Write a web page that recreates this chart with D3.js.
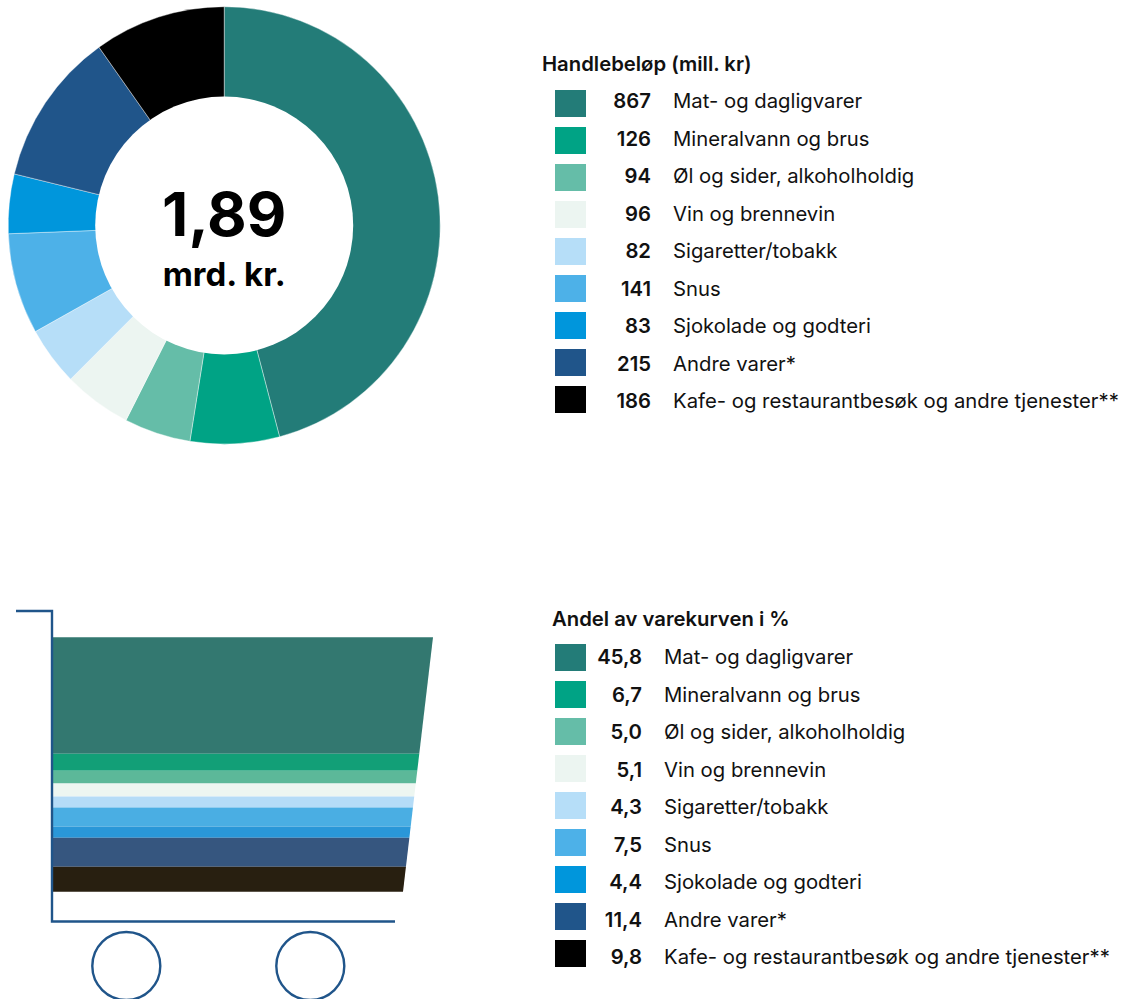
<!DOCTYPE html>
<html lang="nb">
<head>
<meta charset="utf-8">
<title>Handlebeløp og varekurv</title>
<script src="https://cdn.jsdelivr.net/npm/d3@7"></script>
<style>
  html, body { margin: 0; padding: 0; background: #fff; }
  svg { display: block; font-family: "Inter", sans-serif; color: #111; }
</style>
</head>
<body>
<svg id="chart" width="1122" height="999"></svg>
<script>
// Varegrupper og verdier
const categories = [
  "Mat- og dagligvarer", "Mineralvann og brus", "Øl og sider, alkoholholdig",
  "Vin og brennevin", "Sigaretter/tobakk", "Snus", "Sjokolade og godteri",
  "Andre varer*", "Kafe- og restaurantbesøk og andre tjenester**"
];
const amounts = [867, 126, 94, 96, 82, 141, 83, 215, 186];
const shares = [45.8, 6.7, 5.0, 5.1, 4.3, 7.5, 4.4, 11.4, 9.8];
const shareLabels = ["45,8", "6,7", "5,0", "5,1", "4,3", "7,5", "4,4", "11,4", "9,8"];
const swatchColors = ["#237c78", "#00a385", "#65bda8", "#ecf5f1", "#b6def8", "#4db1e8", "#0096dc", "#20558a", "#000000"];
const basketColors = ["#337870", "#129f77", "#5cb899", "#edf6f1", "#b5dcf7", "#4aaee3", "#2a97d8", "#36567f", "#281f10"];
const totalLabel = "1,89";
const unitLabel = "mrd. kr.";
const amountTitle = "Handlebeløp (mill. kr)";
const shareTitle = "Andel av varekurven i %";

const svg = d3.select("#chart");
const ink = "#111";
const FONT_LABEL = 20.3;

// Smultring med handlebeløp: ytterkanten er svakt oval, hullet er en sirkel
const pie = d3.pie().sort(null).value(d => d);
const arc = d3.arc().innerRadius(0).outerRadius(218.7);
const donut = svg.append("g").attr("transform", "translate(224.2,225.4)");
donut.append("g").attr("transform", `scale(${216 / 218.7},1)`)
  .selectAll("path").data(pie(amounts)).join("path")
  .attr("d", arc)
  .attr("fill", (d, i) => swatchColors[i])
  .attr("stroke", "#fff")
  .attr("stroke-width", 0.4);
donut.append("circle").attr("r", 129).attr("fill", "#fff");
donut.append("text").text(totalLabel)
  .attr("text-anchor", "middle").attr("y", 11)
  .attr("font-size", 61).attr("font-weight", 700).attr("fill", "#000");
donut.append("text").text(unitLabel)
  .attr("text-anchor", "middle").attr("y", 61)
  .attr("font-size", 33).attr("font-weight", 700).attr("fill", "#000");

// Tegnforklaring: fargerute, tall og varegruppe
function legend({ title, titleX, titleY, swatchTop, baseline, numberX, labelX, values }) {
  const rowIndex = d3.range(categories.length);
  const swatchY = d3.scalePoint().domain(rowIndex).range([swatchTop, swatchTop + 296]);
  const textY = d3.scalePoint().domain(rowIndex).range([baseline, baseline + 300]);
  svg.append("text").text(title)
    .attr("x", titleX).attr("y", titleY)
    .attr("font-size", 20.3).attr("font-weight", 600).attr("fill", ink);
  const rows = svg.append("g").selectAll("g").data(categories).join("g");
  rows.append("rect")
    .attr("x", 555).attr("y", (d, i) => swatchY(i)).attr("width", 31).attr("height", 27)
    .attr("fill", (d, i) => swatchColors[i]);
  rows.append("text").text((d, i) => values[i])
    .attr("x", numberX).attr("y", (d, i) => textY(i)).attr("text-anchor", "end")
    .attr("font-size", FONT_LABEL).attr("font-weight", 600).attr("fill", ink);
  rows.append("text").text(d => d)
    .attr("x", labelX).attr("y", (d, i) => textY(i))
    .attr("font-size", FONT_LABEL).attr("fill", ink);
}
legend({ title: amountTitle, titleX: 542, titleY: 71, swatchTop: 90, baseline: 108.3, numberX: 651, labelX: 673, values: amounts });
legend({ title: shareTitle, titleX: 552, titleY: 626, swatchTop: 644, baseline: 664, numberX: 642, labelX: 664, values: shareLabels });

// Handlevogn der båndene er delt etter andel av kurven
const basketY = d3.scaleLinear().domain([0, d3.sum(shares)]).range([637.3, 891.7]);
const basketRight = d3.scaleLinear().domain([0, d3.sum(shares)]).range([433, 403]);
const cum = d3.cumsum(shares);
const bandPath = (d, i) => {
  const a = i ? cum[i - 1] : 0, b = cum[i];
  return d3.line()([
    [51.3, basketY(a)], [basketRight(a), basketY(a)],
    [basketRight(b), basketY(b)], [51.3, basketY(b)]
  ]) + "Z";
};
svg.append("g").selectAll("path").data(shares).join("path")
  .attr("d", bandPath)
  .attr("fill", (d, i) => basketColors[i]);

const cartBlue = "#20558a";
svg.append("path")
  .attr("d", d3.line()([[16, 611], [52, 611], [52, 921.5], [395, 921.5]]))
  .attr("fill", "none").attr("stroke", cartBlue).attr("stroke-width", 2.4);
svg.append("g").selectAll("circle").data([126.3, 310.3]).join("circle")
  .attr("cx", d => d).attr("cy", 966).attr("r", 34)
  .attr("fill", "none").attr("stroke", cartBlue).attr("stroke-width", 2.4);
</script>
</body>
</html>
